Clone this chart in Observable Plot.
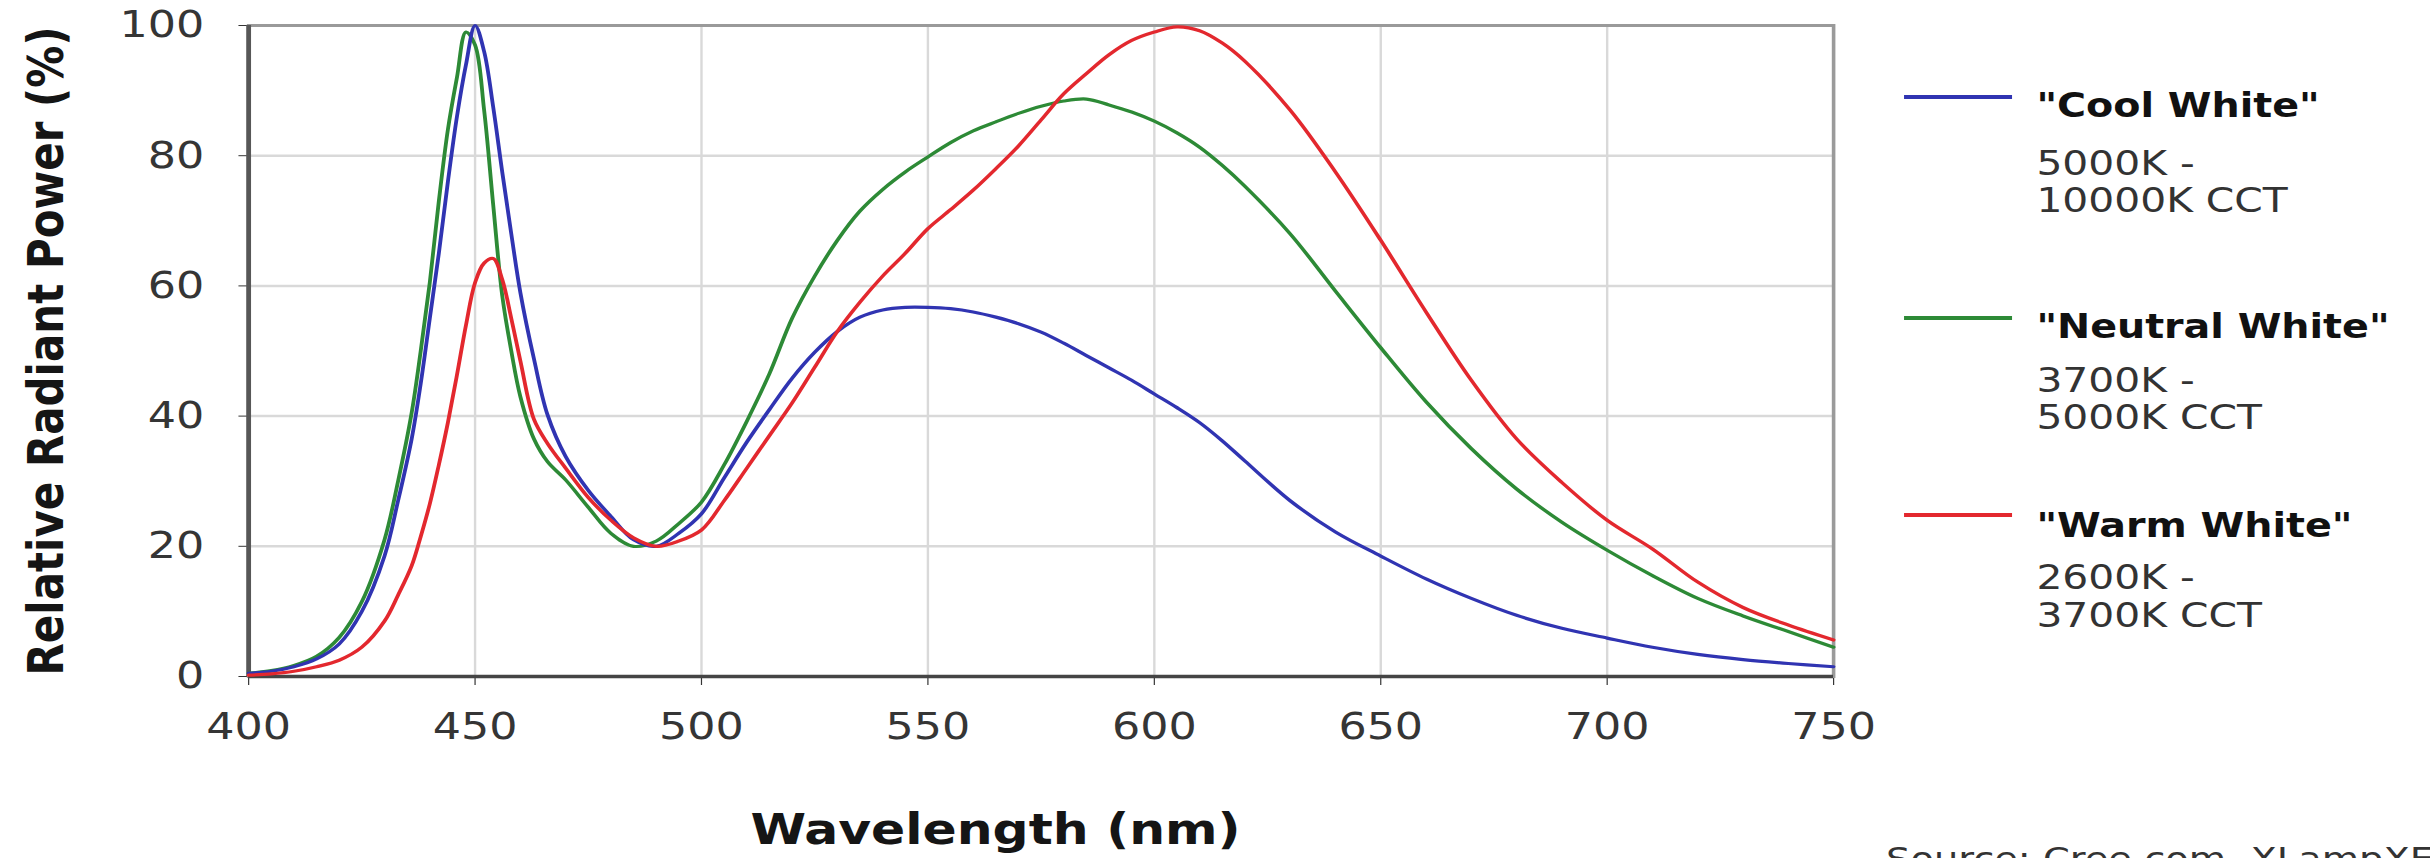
<!DOCTYPE html>
<html>
<head>
<meta charset="utf-8">
<script src="https://cdn.jsdelivr.net/npm/d3@7"></script>
<script src="https://cdn.jsdelivr.net/npm/@observablehq/plot@0.6"></script>
<style>
html, body { margin: 0; padding: 0; background: #fff; overflow: hidden; }
#wrap { position: relative; width: 2025px; height: 858px; transform: scaleX(1.2); transform-origin: 0 0; overflow: hidden;
        font-family: "DejaVu Sans", Verdana, sans-serif; }
#chart { position: absolute; left: 0; top: 0; }
#legend { position: absolute; left: 1560px; top: 0; }
</style>
</head>
<body>
<div id="wrap"><div id="chart"></div><svg id="legend" width="465" height="858"></svg></div>
<script>
// ---- data ----
const wavelengths = [400,405,410,415,420,425,430,433,436,438,440,442,444,446,448,450,452,454,456,458,460,463,466,470,
  475,480,485,490,495,500,505,510,515,520,525,530,535,540,545,550,555,560,565,570,575,580,585,590,595,600,605,610,615,620,
  630,640,650,660,670,680,690,700,710,720,730,740,750];

const coolWhite = [0.5,0.8,1.5,2.7,5,10,18.5,27,36.5,45,55,65,76,86,94,100,96,87.5,77.5,68,59,48.8,40.2,33.8,
  28.6,24.6,21,20,22,25,30.5,36,41,45.8,49.8,53,55.2,56.3,56.7,56.7,56.5,56,55.2,54.2,52.9,51.2,49.3,47.4,45.5,43.4,41.3,39,36.2,33.1,
  27,22.2,18.5,15,12,9.4,7.4,5.9,4.5,3.4,2.6,2,1.5];

const neutralWhite = [0.5,0.9,1.7,3.1,6,11.5,21,30,40.5,50,60.5,73,84,92,99,97,87,72.5,58.5,50,43,36.5,33,30.2,
  26,22,20,20.8,23.5,26.8,32.5,39.2,46.5,55,61.5,67,71.5,74.8,77.5,79.8,82,83.8,85.2,86.5,87.6,88.4,88.7,87.8,86.7,85.3,83.5,81.3,78.5,75.3,
  68,59.2,50.5,42.2,35,28.8,23.7,19.4,15.5,12,9.3,6.9,4.5];

const warmWhite = [0.2,0.4,0.8,1.5,2.5,4.5,8.5,12.5,17,21.5,26.5,32.5,39,46.3,54,60.5,63.5,64.2,61,55,48.5,39.5,35.8,32,
  27.5,24,21.3,20,20.8,22.5,27,32,37,42,47.5,53,57.5,61.5,65,68.8,71.7,74.7,78,81.5,85.5,89.5,92.6,95.5,97.7,99,99.8,99.2,97.3,94.5,
  87,77.5,67,56,45.5,36.5,29.8,24,19.6,14.5,10.6,7.9,5.6];

const seriesNames  = ["Cool White", "Neutral White", "Warm White"];
const seriesRanges = [["5000K -", "10000K CCT"], ["3700K -", "5000K CCT"], ["2600K -", "3700K CCT"]];
const seriesColors = ["#3034b2", "#2d8a36", "#e3282e"];
const drawOrder    = ["Neutral White", "Cool White", "Warm White"];

const xTicks = [400, 450, 500, 550, 600, 650, 700, 750];
const yTicks = [0, 20, 40, 60, 80, 100];
const xTitle = "Wavelength (nm)";
const yTitle = "Relative Radiant Power (%)";
const sourceText = "Source: Cree.com, XLampXE";

// ---- build table ----
const valuesBySeries = {"Cool White": coolWhite, "Neutral White": neutralWhite, "Warm White": warmWhite};
const rows = drawOrder.flatMap(name => wavelengths.map((wl, i) => ({series: name, wl, v: valuesBySeries[name][i]})));

const chart = Plot.plot({
  width: 1580,
  height: 858,
  marginLeft: 206.7,
  marginRight: 52.5,
  marginTop: 25,
  marginBottom: 182,
  style: {fontFamily: "'DejaVu Sans', Verdana, sans-serif", fontSize: "37px", color: "#353535", background: "transparent", overflow: "visible"},
  x: {domain: [400, 750], ticks: xTicks, tickSize: 9, tickPadding: 27, label: null, tickFormat: d => String(d)},
  y: {domain: [0, 100], ticks: yTicks, tickSize: 8, tickPadding: 29, label: null, tickFormat: d => String(d)},
  color: {domain: seriesNames, range: seriesColors},
  marks: [
    Plot.ruleX(xTicks, {stroke: "#d9d9d9", strokeWidth: 2}),
    Plot.ruleY(yTicks, {stroke: "#d9d9d9", strokeWidth: 2.5}),
    Plot.frame({stroke: "#9a9a9a", strokeWidth: 3}),
    Plot.ruleX([xTicks[0]], {stroke: "#575757", strokeWidth: 4}),
    Plot.ruleY([yTicks[0]], {stroke: "#454545", strokeWidth: 3.5}),
    Plot.line(rows, {x: "wl", y: "v", z: "series", stroke: "series", curve: "catmull-rom", strokeWidth: 3.2}),
    Plot.text([yTitle], {text: d => d, frameAnchor: "left", textAnchor: "middle", lineAnchor: "middle", rotate: -90, dx: -168.4,
                         fontSize: 42, fontWeight: "bold", fill: "#151515"}),
    Plot.text([xTitle], {text: d => d, frameAnchor: "bottom", textAnchor: "middle", lineAnchor: "middle", dx: -38, dy: 154,
                         fontSize: 42, fontWeight: "bold", fill: "#151515"})
  ]
});
document.getElementById("chart").appendChild(chart);

// ---- legend ----
const legend = d3.select("#legend");
const lineY  = [97, 318, 515];
const titleY = [117, 338, 537];
const sub1Y  = [175, 392, 589];
const sub2Y  = [212, 429, 627];
seriesNames.forEach((name, i) => {
  legend.append("line")
    .attr("x1", 26.7).attr("x2", 116.7)
    .attr("y1", lineY[i]).attr("y2", lineY[i])
    .attr("stroke", seriesColors[i]).attr("stroke-width", 4);
  legend.append("text")
    .attr("x", 137).attr("y", titleY[i])
    .attr("font-family", "'DejaVu Sans', Verdana, sans-serif")
    .attr("font-size", 33).attr("font-weight", "bold").attr("fill", "#111")
    .text(`"${name}"`);
  legend.append("text")
    .attr("x", 137).attr("y", sub1Y[i])
    .attr("font-family", "'DejaVu Sans', Verdana, sans-serif")
    .attr("font-size", 34).attr("fill", "#333")
    .text(seriesRanges[i][0]);
  legend.append("text")
    .attr("x", 137).attr("y", sub2Y[i])
    .attr("font-family", "'DejaVu Sans', Verdana, sans-serif")
    .attr("font-size", 34).attr("fill", "#333")
    .text(seriesRanges[i][1]);
});
legend.append("text")
  .attr("x", 11.7).attr("y", 870)
  .attr("font-family", "'DejaVu Sans', Verdana, sans-serif")
  .attr("font-size", 32).attr("fill", "#333")
  .text(sourceText);
</script>
</body>
</html>
